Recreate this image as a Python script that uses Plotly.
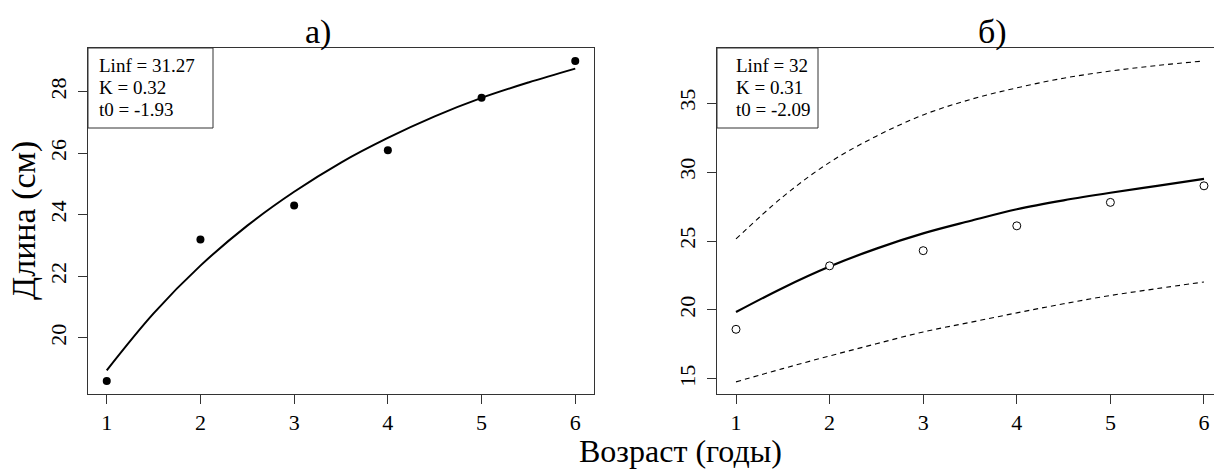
import plotly.graph_objects as go

W, H = 1214, 471

# ---- data ----
ages = [1, 2, 3, 4, 5, 6]
lengths = [18.6, 23.2, 24.3, 26.1, 27.8, 29.0]

curve_t = [1, 1.5, 2, 2.5, 3, 3.5, 4, 4.5, 5, 5.5, 6]
fit_a = [18.95, 20.8, 22.35, 23.65, 24.75, 25.7, 26.5, 27.2, 27.8, 28.3, 28.75]
fit_b = [19.85, 21.6, 23.15, 24.45, 25.55, 26.45, 27.3, 27.95, 28.5, 29.0, 29.5]
upper_b = [25.15, 28.2, 30.7, 32.6, 34.14, 35.25, 36.1, 36.8, 37.32, 37.72, 38.05]
lower_b = [14.79, 15.75, 16.67, 17.55, 18.41, 19.1, 19.79, 20.45, 21.05, 21.55, 22.03]

x_ticks = [1, 2, 3, 4, 5, 6]
y_ticks_a = [20, 22, 24, 26, 28]
y_ticks_b = [15, 20, 25, 30, 35]

params_a = ["Linf = 31.27", "K = 0.32", "t0 = -1.93"]
params_b = ["Linf = 32", "K = 0.31", "t0 = -2.09"]

FONT = "Liberation Serif, Times New Roman, serif"


def px(x):
    return x / W


def py(y):
    return 1 - y / H


fig = go.Figure()

# panel a
fig.add_trace(go.Scatter(x=curve_t, y=fit_a, mode="lines", line=dict(color="black", width=2, shape="spline"),
                         xaxis="x", yaxis="y", showlegend=False))
fig.add_trace(go.Scatter(x=ages, y=lengths, mode="markers",
                         marker=dict(color="black", size=8, symbol="circle"),
                         xaxis="x", yaxis="y", showlegend=False))

# panel b
fig.add_trace(go.Scatter(x=curve_t, y=upper_b, mode="lines",
                         line=dict(color="black", width=1.1, dash="5px,4px", shape="spline"),
                         xaxis="x2", yaxis="y2", showlegend=False))
fig.add_trace(go.Scatter(x=curve_t, y=lower_b, mode="lines",
                         line=dict(color="black", width=1.1, dash="5px,4px", shape="spline"),
                         xaxis="x2", yaxis="y2", showlegend=False))
fig.add_trace(go.Scatter(x=curve_t, y=fit_b, mode="lines", line=dict(color="black", width=2.2, shape="spline"),
                         xaxis="x2", yaxis="y2", showlegend=False))
fig.add_trace(go.Scatter(x=ages, y=lengths, mode="markers",
                         marker=dict(color="white", size=8, symbol="circle",
                                     line=dict(color="black", width=1)),
                         xaxis="x2", yaxis="y2", showlegend=False))

y_dom = [py(394), py(48)]

axis_common = dict(showgrid=False, zeroline=False, showline=True, linecolor="#333333", linewidth=1,
                   ticks="outside", ticklen=9, tickcolor="#333333", tickwidth=1,
                   tickfont=dict(family=FONT, size=22, color="black"))

fig.update_layout(
    width=W, height=H,
    margin=dict(l=0, r=0, t=0, b=0),
    paper_bgcolor="white", plot_bgcolor="white",
    xaxis=dict(domain=[px(88), px(594)], range=[0.8, 6.2], tickvals=x_ticks, mirror=True,
               anchor="y", **axis_common),
    yaxis=dict(domain=y_dom, range=[18.18, 29.42], tickvals=y_ticks_a, mirror=True, tickangle=-90,
               anchor="x", ticklabelstandoff=3, **axis_common),
    xaxis2=dict(domain=[px(717), 1.0], range=[0.797, 6.107], tickvals=x_ticks, mirror=True,
                anchor="y2", **axis_common),
    yaxis2=dict(domain=y_dom, range=[13.91, 38.99], tickvals=y_ticks_b, mirror=False, tickangle=-90,
                anchor="x2", ticklabelstandoff=3, **axis_common),
)

shapes = []
annotations = []

# parameter boxes
shapes.append(dict(type="rect", xref="paper", yref="paper", x0=px(88), x1=px(213), y0=py(128), y1=py(48),
                   line=dict(color="#333333", width=1), fillcolor="rgba(0,0,0,0)"))
shapes.append(dict(type="rect", xref="paper", yref="paper", x0=px(717), x1=px(818), y0=py(128), y1=py(48),
                   line=dict(color="#333333", width=1), fillcolor="rgba(0,0,0,0)"))

for i, t in enumerate(params_a):
    annotations.append(dict(text=t, xref="paper", yref="paper", x=px(97), y=py(66 + 22 * i),
                            xanchor="left", yanchor="middle", showarrow=False,
                            font=dict(family=FONT, size=19, color="black")))
for i, t in enumerate(params_b):
    annotations.append(dict(text=t, xref="paper", yref="paper", x=px(734), y=py(66 + 22 * i),
                            xanchor="left", yanchor="middle", showarrow=False,
                            font=dict(family=FONT, size=19, color="black")))

# titles
annotations.append(dict(text="а)", xref="paper", yref="paper", x=px(318), y=py(53), xanchor="center",
                        yanchor="bottom", showarrow=False, font=dict(family=FONT, size=34, color="black")))
annotations.append(dict(text="б)", xref="paper", yref="paper", x=px(992), y=py(53), xanchor="center",
                        yanchor="bottom", showarrow=False, font=dict(family=FONT, size=34, color="black")))

# axis titles
annotations.append(dict(text="Длина (см)", xref="paper", yref="paper", x=px(24), y=py(221), xanchor="center",
                        yanchor="middle", showarrow=False, textangle=-90,
                        font=dict(family=FONT, size=34, color="black")))
annotations.append(dict(text="Возраст (годы)", xref="paper", yref="paper", x=px(680), y=0.0,
                        xanchor="center", yanchor="bottom", showarrow=False,
                        font=dict(family=FONT, size=32, color="black")))

fig.update_layout(shapes=shapes, annotations=annotations)

fig.write_html("out.html")
